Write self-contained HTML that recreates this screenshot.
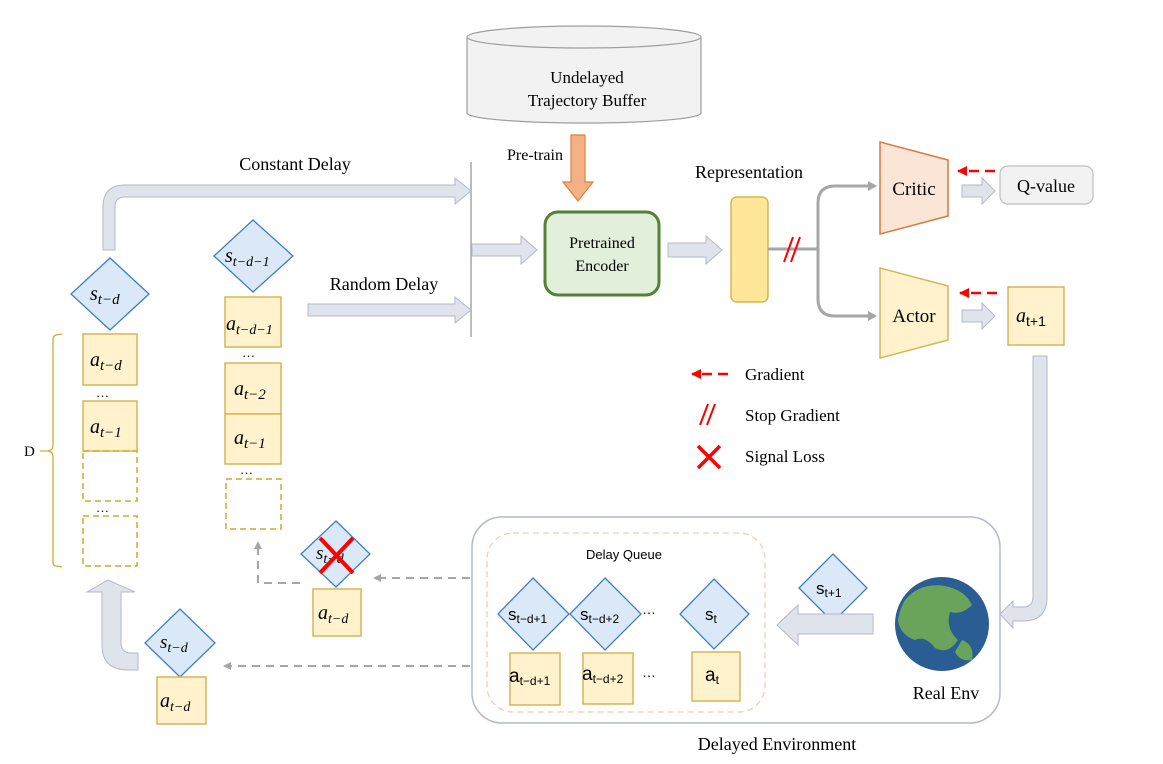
<!DOCTYPE html>
<html><head><meta charset="utf-8"><style>
html,body{margin:0;padding:0;background:#fff}
svg{display:block}
.t{font-family:"Liberation Serif",serif;fill:#000}
.m{font-family:"Liberation Serif",serif;font-style:italic;fill:#000}
.s{font-family:"Liberation Sans","DejaVu Sans",sans-serif;fill:#000}
</style></head><body>
<svg width="1163" height="764" viewBox="0 0 1163 764" xmlns="http://www.w3.org/2000/svg">
<defs>
<marker id="ga" markerWidth="8" markerHeight="8" refX="7" refY="4" orient="auto" markerUnits="userSpaceOnUse"><path d="M0,0 L8,4 L0,8 z" fill="#a6a6a6"/></marker>
<marker id="ra" markerWidth="10" markerHeight="10" refX="9" refY="5" orient="auto" markerUnits="userSpaceOnUse"><path d="M0,0 L10,5 L0,10 z" fill="#f00"/></marker>
</defs>
<!-- cylinder -->
<path d="M467,37 L467,113 A117,10 0 0 0 701,113 L701,37" fill="#f2f2f2" stroke="#9e9e9e" stroke-width="1.2"/>
<ellipse cx="584" cy="37" rx="117" ry="11" fill="#f2f2f2" stroke="#9e9e9e" stroke-width="1.2"/>
<text class="t" x="587" y="83" font-size="17" text-anchor="middle">Undelayed</text>
<text class="t" x="587" y="106" font-size="17" text-anchor="middle">Trajectory Buffer</text>
<!-- pretrain arrow -->
<path d="M571,135 L585,135 L585,182 L593,182 L578,201 L563,182 L571,182 z" fill="#f4b183" stroke="#e08040" stroke-width="1.2"/>
<text class="t" x="507" y="160" font-size="16">Pre-train</text>
<line x1="471" y1="162" x2="471" y2="337" stroke="#a6a6a6" stroke-width="1.5"/>
<path d="M103,250 L103,207 Q103,185 125,185 L455,185 L455,178 L471,191 L455,204 L455,197 L125,197 Q115,197 115,207 L115,250 z" fill="#dee3ec" stroke="#b4b9c8" stroke-width="1"/>
<text class="t" x="295" y="170" font-size="18" text-anchor="middle">Constant Delay</text>
<path d="M308,304 L455,304 L455,297 L471,310 L455,323 L455,316 L308,316 z" fill="#dee3ec" stroke="#b4b9c8"/>
<text class="t" x="384" y="290" font-size="18" text-anchor="middle">Random Delay</text>
<path d="M472,244 L521,244 L521,236 L537,250 L521,264 L521,256 L472,256 z" fill="#dee3ec" stroke="#b4b9c8"/>
<rect x="545" y="212" width="114" height="83" rx="13" fill="#e2efda" stroke="#538135" stroke-width="3"/>
<text class="t" x="602" y="248" font-size="16" text-anchor="middle">Pretrained</text>
<text class="t" x="602" y="271" font-size="16" text-anchor="middle">Encoder</text>
<path d="M668,243 L706,243 L706,236 L722,250 L706,264 L706,257 L668,257 z" fill="#dee3ec" stroke="#b4b9c8"/>
<rect x="731" y="197" width="37" height="105" rx="6" fill="#ffe699" stroke="#d6b656" stroke-width="1.5"/>
<text class="t" x="749" y="178" font-size="18" text-anchor="middle">Representation</text>
<path d="M768,249 L818,249" stroke="#a6a6a6" stroke-width="3" fill="none"/>
<path d="M875,186 L835,186 Q818,186 818,203 L818,299 Q818,316 835,316 L875,316" stroke="#a6a6a6" stroke-width="3" fill="none"/>
<path d="M868,181 L877,186 L868,191 z M868,311 L877,316 L868,321 z" fill="#a6a6a6"/>
<path d="M784,262 L793,237 M791,262 L800,237" stroke="#f00" stroke-width="2"/>
<polygon points="880,142 948,160 948,216 880,234" fill="#fbe5d6" stroke="#d87a3c" stroke-width="1.5"/>
<text class="t" x="914" y="195" font-size="19" text-anchor="middle">Critic</text>
<polygon points="880,268 948,286 948,340 880,358" fill="#fff2cc" stroke="#d6b656" stroke-width="1.5"/>
<text class="t" x="914" y="322" font-size="19" text-anchor="middle">Actor</text>
<line x1="995" y1="171" x2="958" y2="171" stroke="#f00" stroke-width="2.5" stroke-dasharray="10,6" marker-end="url(#ra)"/>
<line x1="997" y1="293" x2="960" y2="293" stroke="#f00" stroke-width="2.5" stroke-dasharray="10,6" marker-end="url(#ra)"/>
<path d="M962,185 L982,185 L982,178 L995,191 L982,204 L982,197 L962,197 z" fill="#dee3ec" stroke="#b4b9c8"/>
<path d="M962,310 L982,310 L982,303 L995,316 L982,329 L982,322 L962,322 z" fill="#dee3ec" stroke="#b4b9c8"/>
<rect x="1000" y="166" width="93" height="38" rx="8" fill="#f2f2f2" stroke="#bfbfbf" stroke-width="1.2"/>
<text class="t" x="1046" y="192" font-size="18" text-anchor="middle">Q-value</text>
<rect x="1008" y="287" width="56" height="58" fill="#fff2cc" stroke="#d6b656" stroke-width="1.5"/>
<text class="m" x="1016" y="322" font-size="20">a<tspan font-size="14" dy="4" font-style="normal" font-family="Liberation Sans">t+1</tspan></text>
<path d="M1033,356 L1047,356 L1047,597 Q1047,621 1023,621 L1013,621 L1013,628 L1000,614 L1013,601 L1013,607 L1023,607 Q1033,607 1033,597 z" fill="#dee3ec" stroke="#b4b9c8"/>
<line x1="728" y1="374" x2="692" y2="374" stroke="#f00" stroke-width="2.5" stroke-dasharray="10,6" marker-end="url(#ra)"/>
<text class="t" x="745" y="380" font-size="17">Gradient</text>
<path d="M700,425 L708,404 M707,425 L715,404" stroke="#f00" stroke-width="2"/>
<text class="t" x="745" y="421" font-size="17">Stop Gradient</text>
<path d="M698,446 L720,468 M720,446 L698,468" stroke="#f00" stroke-width="3.5"/>
<text class="t" x="745" y="462" font-size="17">Signal Loss</text>
<rect x="472" y="517" width="528" height="206" rx="30" fill="none" stroke="#b4b9c8" stroke-width="1.5"/>
<rect x="487" y="533" width="278" height="179" rx="26" fill="none" stroke="#f8cbad" stroke-width="1.3" stroke-dasharray="6,4"/>
<text class="s" x="624" y="559" font-size="13" text-anchor="middle">Delay Queue</text>
<g fill="#dae8f7" stroke="#3f7fc2" stroke-width="1.3">
<polygon points="533,578 569,614 533,650 498,614"/>
<polygon points="605,578 641,614 605,650 570,614"/>
<polygon points="714,579 749,614 714,649 680,614"/>
<polygon points="833,554 867,588 833,622 799,588"/>
</g>
<g class="s" font-size="17">
<text x="508" y="620">s<tspan font-size="12" dy="3">t−d+1</tspan></text>
<text x="580" y="620">s<tspan font-size="12" dy="3">t−d+2</tspan></text>
<text x="705" y="620">s<tspan font-size="12" dy="3">t</tspan></text>
<text x="816" y="594">s<tspan font-size="12" dy="3">t+1</tspan></text>
<text x="642" y="614" font-size="14">…</text>
<text x="642" y="677" font-size="14">…</text>
</g>
<g fill="#fff2cc" stroke="#d6b656" stroke-width="1.5">
<rect x="510" y="653" width="50" height="52"/>
<rect x="583" y="653" width="50" height="51"/>
<rect x="692" y="652" width="48" height="49"/>
</g>
<g class="s" font-size="19">
<text x="509" y="682">a<tspan font-size="12" dy="3">t−d+1</tspan></text>
<text x="582" y="680">a<tspan font-size="12" dy="3">t−d+2</tspan></text>
<text x="705" y="681">a<tspan font-size="12" dy="3">t</tspan></text>
</g>
<path d="M873,614 L798,614 L798,605 L777,625 L798,645 L798,634 L873,634 z" fill="#dee3ec" stroke="#b4b9c8"/>
<circle cx="942" cy="624" r="47" fill="#2a5d94"/>
<path d="M905,600 Q920,582 945,586 Q965,590 972,605 Q962,615 950,612 Q945,628 958,640 Q948,655 935,648 Q925,635 915,640 Q900,635 898,620 Q900,608 905,600 z" fill="#6aa35a"/>
<path d="M962,640 Q975,645 972,660 Q960,662 955,652 z" fill="#6aa35a"/>
<text class="t" x="946" y="699" font-size="18" text-anchor="middle">Real Env</text>
<text class="t" x="777" y="750" font-size="18" text-anchor="middle">Delayed Environment</text>
<line x1="470" y1="578" x2="374" y2="578" stroke="#a6a6a6" stroke-width="2" stroke-dasharray="8,6" marker-end="url(#ga)"/>
<line x1="470" y1="666" x2="224" y2="666" stroke="#a6a6a6" stroke-width="2" stroke-dasharray="8,6" marker-end="url(#ga)"/>
<path d="M300,583 L258,583 L258,542" stroke="#a6a6a6" stroke-width="2" stroke-dasharray="8,6" fill="none" marker-end="url(#ga)"/>
<polygon points="336,521 370,554 336,587 301,554" fill="#dae8f7" stroke="#3f7fc2" stroke-width="1.3"/>
<text class="m" x="316" y="559" font-size="19">s<tspan font-size="14" dy="4">t−d</tspan></text>
<path d="M320,538 L353,573 M353,538 L320,573" stroke="#f00" stroke-width="4"/>
<rect x="313" y="589" width="48" height="47" fill="#fff2cc" stroke="#d6b656" stroke-width="1.5"/>
<text class="m" x="318" y="619" font-size="20">a<tspan font-size="14" dy="4">t−d</tspan></text>
<path d="M102,592 L87,592 L108,580 L135,592 L121,592 L121,642 Q121,653 131,653 L138,653 L138,670 L128,670 Q102,670 102,645 z" fill="#dee3ec" stroke="#b4b9c8"/>
<polygon points="180,609 215,643 180,677 145,643" fill="#dae8f7" stroke="#3f7fc2" stroke-width="1.3"/>
<text class="m" x="160" y="648" font-size="19">s<tspan font-size="14" dy="4">t−d</tspan></text>
<rect x="157" y="677" width="49" height="47" fill="#fff2cc" stroke="#d6b656" stroke-width="1.5"/>
<text class="m" x="160" y="707" font-size="20">a<tspan font-size="14" dy="4">t−d</tspan></text>
<polygon points="110,258 149,294 110,330 71,294" fill="#dae8f7" stroke="#3f7fc2" stroke-width="1.3"/>
<text class="m" x="90" y="300" font-size="20">s<tspan font-size="15" dy="4">t−d</tspan></text>
<path d="M62,334 L56,335 Q53,336 53,340 L53,446 Q53,450 48,451 L40,451 M48,451 Q53,452 53,456 L53,562 Q53,566 56,566 L62,567" fill="none" stroke="#d6a92a" stroke-width="1.3"/>
<text class="t" x="24" y="456" font-size="15">D</text>
<rect x="83" y="334" width="54" height="51" fill="#fff2cc" stroke="#d6b656" stroke-width="1.5"/>
<text class="m" x="90" y="366" font-size="20">a<tspan font-size="15" dy="4">t−d</tspan></text>
<text class="t" x="96" y="397" font-size="13">…</text>
<rect x="83" y="401" width="54" height="50" fill="#fff2cc" stroke="#d6b656" stroke-width="1.5"/>
<text class="m" x="90" y="433" font-size="20">a<tspan font-size="15" dy="4">t−1</tspan></text>
<rect x="83" y="451" width="54" height="50" fill="none" stroke="#d6a92a" stroke-width="1.5" stroke-dasharray="6,4"/>
<text class="t" x="96" y="512" font-size="13">…</text>
<rect x="83" y="516" width="54" height="50" fill="none" stroke="#d6a92a" stroke-width="1.5" stroke-dasharray="6,4"/>
<polygon points="253,220 293,256 253,292 214,256" fill="#dae8f7" stroke="#3f7fc2" stroke-width="1.3"/>
<text class="m" x="225" y="262" font-size="20">s<tspan font-size="14" dy="4">t−d−1</tspan></text>
<rect x="225" y="297" width="56" height="50" fill="#fff2cc" stroke="#d6b656" stroke-width="1.5"/>
<text class="m" x="226" y="330" font-size="20">a<tspan font-size="14" dy="4">t−d−1</tspan></text>
<text class="t" x="242" y="357" font-size="13">…</text>
<rect x="225" y="363" width="56" height="51" fill="#fff2cc" stroke="#d6b656" stroke-width="1.5"/>
<text class="m" x="234" y="395" font-size="20">a<tspan font-size="15" dy="4">t−2</tspan></text>
<rect x="225" y="414" width="56" height="50" fill="#fff2cc" stroke="#d6b656" stroke-width="1.5"/>
<text class="m" x="234" y="444" font-size="20">a<tspan font-size="15" dy="4">t−1</tspan></text>
<text class="t" x="240" y="474" font-size="13">…</text>
<rect x="226" y="479" width="55" height="50" fill="none" stroke="#d6a92a" stroke-width="1.5" stroke-dasharray="6,4"/>
</svg>
</body></html>
